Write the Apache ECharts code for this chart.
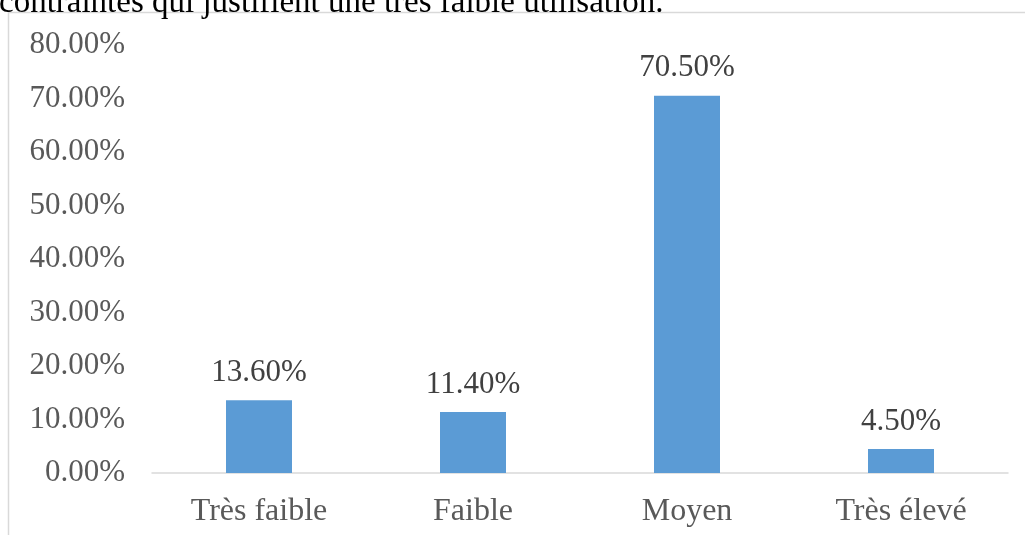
<!DOCTYPE html>
<html>
<head>
<meta charset="utf-8">
<script src="https://cdn.jsdelivr.net/npm/echarts@6/dist/echarts.min.js"></script>
<style>
  html, body { margin: 0; padding: 0; background: #fff; }
  #chart { width: 1025px; height: 535px; }
</style>
</head>
<body>
<div id="chart"></div>
<script>
// data
var categories = ["Très faible", "Faible", "Moyen", "Très élevé"];
var values = [13.6, 11.4, 70.5, 4.5];
var yTicks = [0, 10, 20, 30, 40, 50, 60, 70, 80];
var captionText = "contraintes qui justifient une très faible utilisation.";

var serif = "'Liberation Serif', 'Times New Roman', serif";

var myChart = echarts.init(document.getElementById('chart'));
var option = {
	animation: false,
	textStyle: { fontFamily: serif },
	grid: {
		left: 152,
		right: 17,
		top: 45,
		bottom: 62
	},
	graphic: [
		{
			type: 'rect',
			shape: { x: 8.5, y: 12.5, width: 1040, height: 540 },
			style: { fill: 'none', stroke: '#d9d9d9', lineWidth: 1.5 }
		},
		{
			type: 'text',
			left: -1,
			top: -13,
			style: {
				text: captionText,
				font: "33px " + serif,
				fill: '#000'
			}
		}
	],
	xAxis: {
		type: 'category',
		data: categories,
		axisTick: { show: false },
		axisLine: { lineStyle: { color: '#d9d9d9', width: 1.5 } },
		axisLabel: {
			color: '#595959',
			fontSize: 32,
			fontFamily: serif,
			margin: 23
		}
	},
	yAxis: {
		type: 'value',
		min: yTicks[0],
		max: yTicks[yTicks.length - 1],
		interval: 10,
		splitLine: { show: false },
		axisLine: { show: false },
		axisTick: { show: false },
		axisLabel: {
			color: '#595959',
			fontSize: 31,
			fontFamily: serif,
			margin: 27,
			formatter: function(v){ return v.toFixed(2) + "%"; }
		}
	},
	series: [
		{
			type: 'bar',
			data: values,
			barWidth: 66,
			itemStyle: { color: '#5b9bd5' },
			label: {
				show: true,
				position: 'top',
				distance: 12,
				color: '#404040',
				fontSize: 31,
				fontFamily: serif,
				formatter: function(p){ return p.value.toFixed(2) + "%"; }
			}
		}
	]
};
myChart.setOption(option);
</script>
</body>
</html>
